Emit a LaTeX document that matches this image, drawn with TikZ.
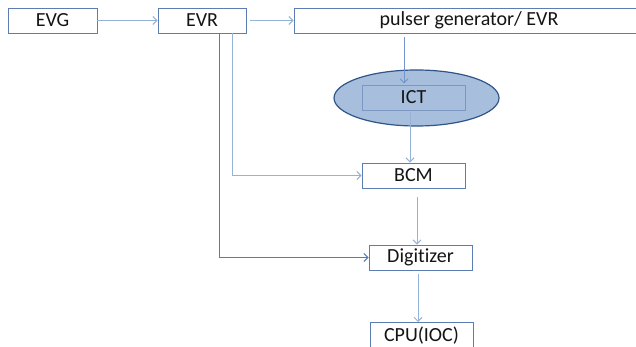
\documentclass[tikz,border=0pt]{standalone}
\usepackage{fontspec}
\setmainfont{Carlito}[RawFeature={-liga;-dlig}]
\usetikzlibrary{arrows.meta,shapes.geometric}
\definecolor{boxline}{HTML}{5B7DB1}
\definecolor{linklight}{HTML}{95B3D7}
\definecolor{linkdark}{HTML}{4F7CBF}
\definecolor{ictfill}{HTML}{A7BFDD}
\definecolor{ictedge}{HTML}{2F5589}
\tikzset{
  label font/.style={font=\fontsize{20}{22}\selectfont, text=black!92},
  unit/.style={draw=boxline, line width=0.9pt, fill=white, label font,
    inner sep=0pt, minimum height=25pt},
  link/.style={draw=linklight, line width=1pt, -{Straight Barb[length=4pt,width=8pt]}},
  linkd/.style={draw=linkdark, line width=1pt, -{Straight Barb[length=4pt,width=8pt]}},
}
\begin{document}
\begin{tikzpicture}[x=1pt,y=-1pt]
\useasboundingbox (0,0) rectangle (636,347);
\clip (0,0) rectangle (636,347);
\fill[white] (0,0) rectangle (636,347);

% boxes
\node[unit, minimum width=89pt] (evg) at (52.5,20.5) {EVG};
\node[unit, minimum width=88pt] (evr) at (202,20.5) {EVR};
\node[unit, minimum width=350pt] (pulser) at (469,20.5) {pulser generator/ EVR};
\node[ellipse, draw=ictedge, line width=1.2pt, fill=ictfill, minimum width=165pt, minimum height=56pt] (ictring) at (416.5,98) {};
\node[unit, draw=boxline!80, fill=ictfill, minimum width=103pt] (ict) at (413.5,97.5) {ICT};
\node[unit, minimum width=103pt] (bcm) at (413.5,175.5) {BCM};
\node[unit, minimum width=103pt] (dig) at (420.5,257.5) {Digitizer};
\node[unit, minimum width=103pt, minimum height=40pt, anchor=north] (cpu) at (421.5,322) {};
\node[label font] (cputext) at (421.5,335.5) {CPU(IOC)};

% connectors
\draw[link] (evg.east) -- (evr.west);
\draw[link] ([xshift=4pt]evr.east) -- (pulser.west |- evr.east);
\draw[linkd] (219,33) |- (dig.west);
\draw[link] (232,33) |- (bcm.west);
\draw[draw=linkdark!80, line width=0.9pt, -{Straight Barb[length=4pt,width=8pt]}] (404,37) -- (404,83.5);
\draw[link] (410,112) -- (bcm.north -| 410,0);
\draw[link] (417,197) -- (dig.north -| 417,0);
\draw[link] (418,274) -- (cpu.north -| 418,0);
\end{tikzpicture}
\end{document}
